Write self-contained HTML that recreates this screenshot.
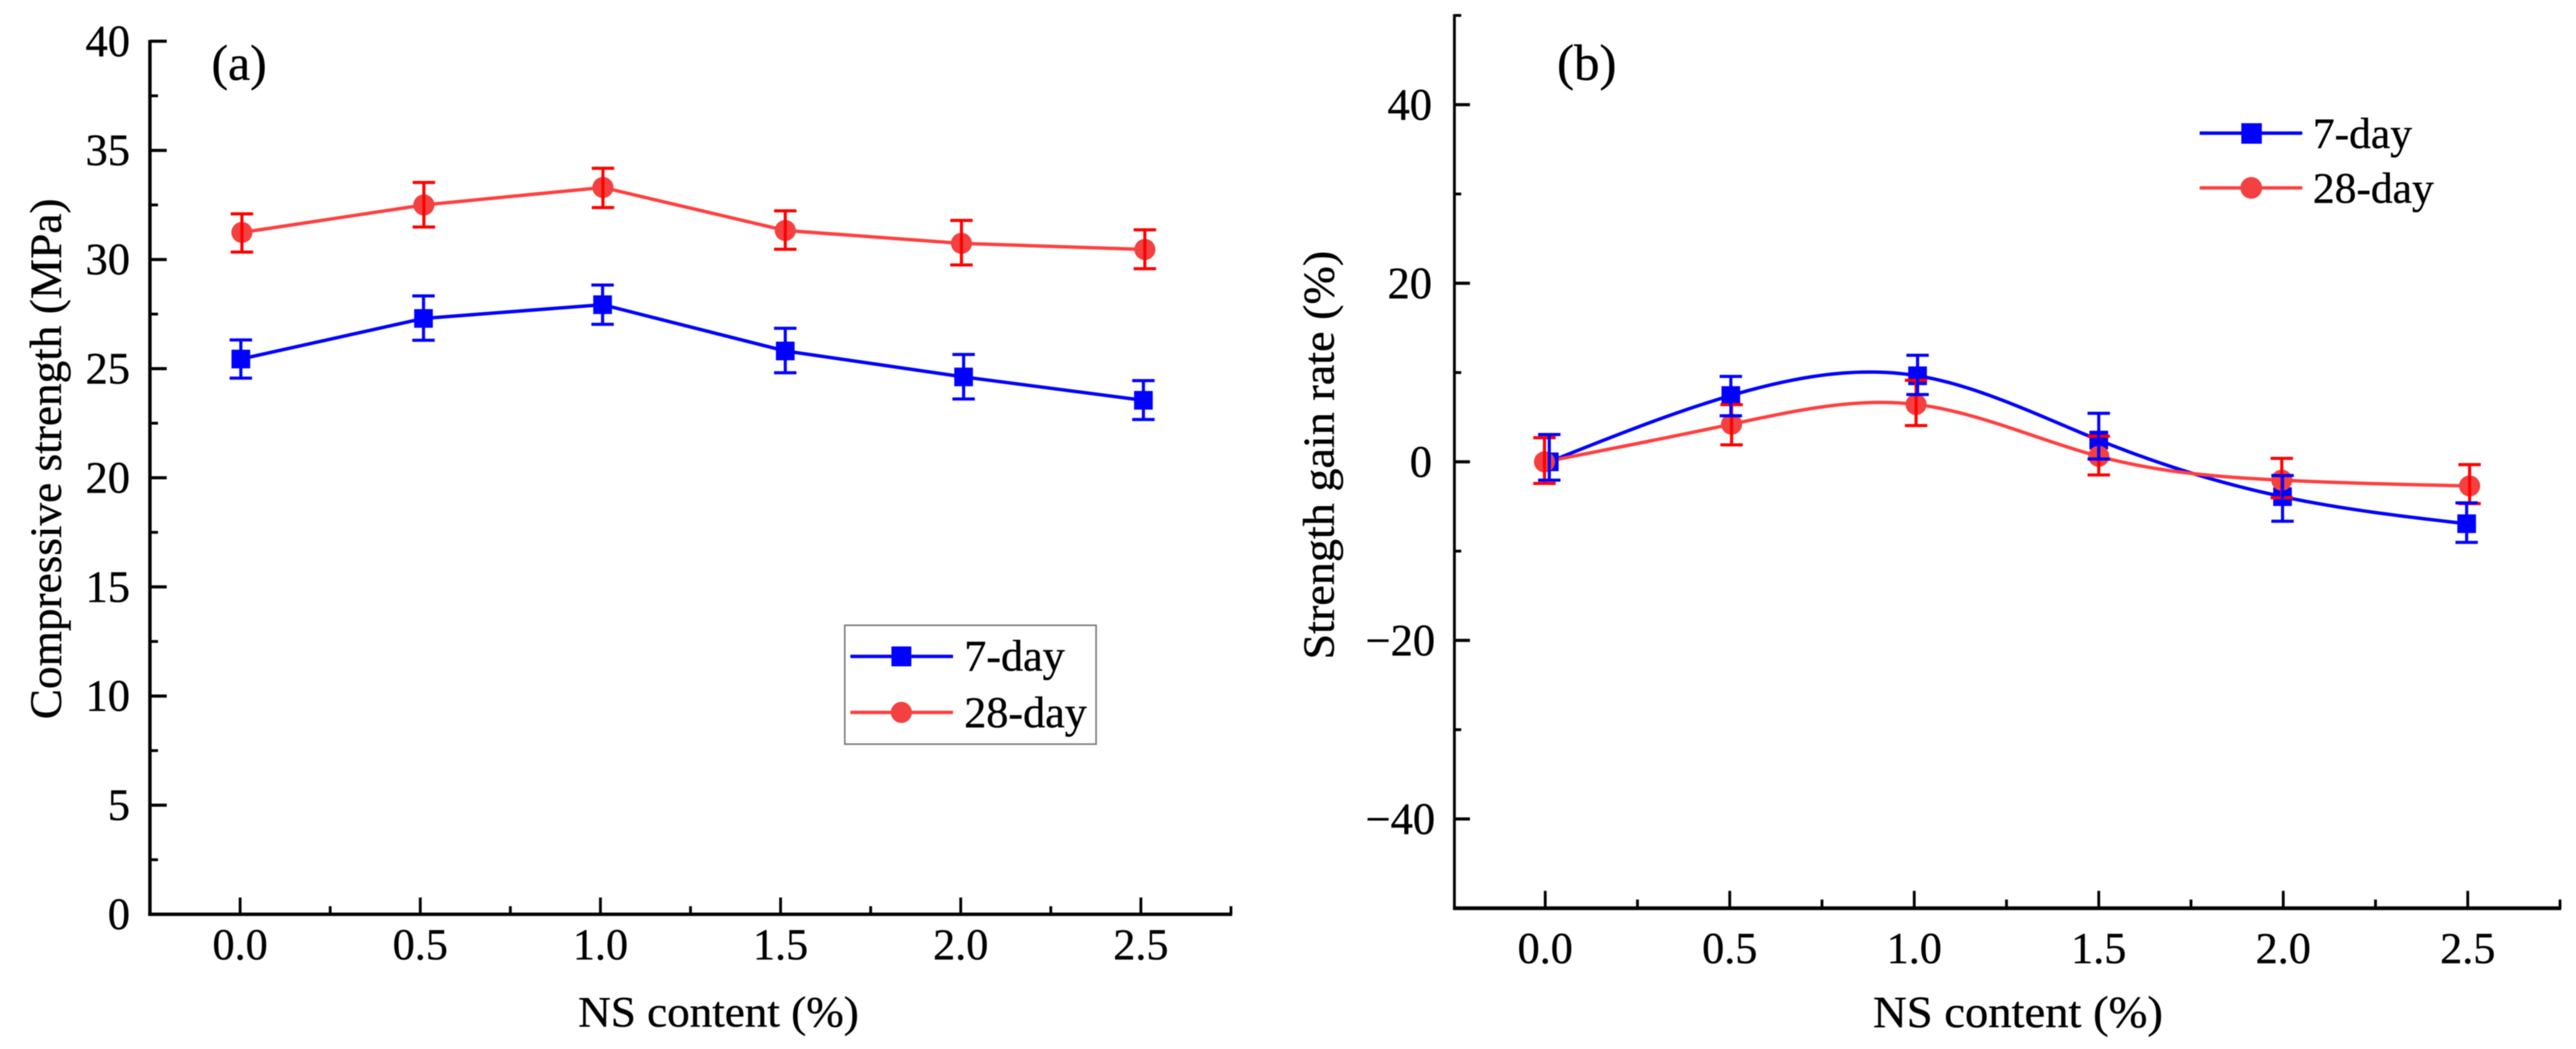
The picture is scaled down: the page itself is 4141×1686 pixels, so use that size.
<!DOCTYPE html>
<html lang="en">
<head>
<meta charset="utf-8">
<title>Compressive strength and strength gain rate vs NS content</title>
<style>
html,body{margin:0;padding:0;background:#fff;width:4141px;height:1686px;overflow:hidden}
svg{display:block;filter:blur(.7px)}
text{font-family:"Liberation Serif",serif;fill:#000;stroke:#000;stroke-width:.6px}
</style>
</head>
<body>
<svg id="figure" xmlns="http://www.w3.org/2000/svg" width="4141" height="1686" viewBox="0 0 4141 1686">
  <rect x="0" y="0" width="4141" height="1686" fill="#fff"/>
  <g id="panelA">
    <text x="340" y="128" font-size="80">(a)</text>
    <text transform="translate(98,737.5) rotate(-90)" text-anchor="middle" font-size="72" textLength="837" lengthAdjust="spacingAndGlyphs">Compressive strength (MPa)</text>
    <text x="1155" y="1650" text-anchor="middle" font-size="70" textLength="451" lengthAdjust="spacingAndGlyphs">NS content (%)</text>
  </g>
  <g id="panelB">
    <text x="2503" y="128" font-size="82">(b)</text>
    <text transform="translate(2144,731.5) rotate(-90)" text-anchor="middle" font-size="71" textLength="657" lengthAdjust="spacingAndGlyphs">Strength gain rate (%)</text>
    <text x="3244" y="1651" text-anchor="middle" font-size="72" textLength="466" lengthAdjust="spacingAndGlyphs">NS content (%)</text>
  </g>
  <g id="legendA">
    <rect x="1358" y="1005" width="404" height="191" fill="#fff" stroke="#777" stroke-width="2.5"/>
    <line x1="1367" x2="1532" y1="1055" y2="1055" stroke="#0000ff" stroke-width="5.5"/>
    <rect x="1433" y="1039" width="32" height="32" fill="#0000ff"/>
    <text x="1550" y="1078" font-size="71">7-day</text>
    <line x1="1367" x2="1532" y1="1145" y2="1145" stroke="#ff4040" stroke-width="5.5"/>
    <circle cx="1449" cy="1145" r="17" fill="#f34040"/>
    <text x="1550" y="1169" font-size="71">28-day</text>
  </g>
  <g id="legendB">
    <line x1="3536" x2="3701" y1="214" y2="214" stroke="#0000ff" stroke-width="5.5"/>
    <rect x="3603" y="198" width="33" height="33" fill="#0000ff"/>
    <text x="3718" y="238" font-size="70">7-day</text>
    <line x1="3536" x2="3701" y1="302" y2="302" stroke="#ff4040" stroke-width="5.5"/>
    <circle cx="3619" cy="302" r="17.5" fill="#f34040"/>
    <text x="3718" y="326" font-size="70">28-day</text>
  </g>
</svg>
<script>
// Panel (a): compressive strength
const aXTickValues = [0, 0.5, 1, 1.5, 2, 2.5];
const aXTickLabels = ['0.0', '0.5', '1.0', '1.5', '2.0', '2.5'];
const aXMinorTicks = [0.25, 0.75, 1.25, 1.75, 2.25, 2.75];
const aYTickValues = [0, 5, 10, 15, 20, 25, 30, 35, 40];
const aYTickLabels = ['0', '5', '10', '15', '20', '25', '30', '35', '40'];
const aYMinorTicks = [2.5, 7.5, 12.5, 17.5, 22.5, 27.5, 32.5, 37.5];
const aX7 = [0.002, 0.509, 1.006, 1.513, 2.008, 2.507];
const aY7 = [25.44, 27.3, 27.93, 25.81, 24.62, 23.55];
const aErrUp7 = [0.875, 1.03, 0.9, 1.04, 1.03, 0.9];
const aErrDown7 = [0.875, 1.0, 0.9, 1.0, 1.01, 0.88];
const aX28 = [0.005, 0.51, 1.007, 1.513, 2.002, 2.511];
const aY28 = [31.24, 32.5, 33.3, 31.33, 30.74, 30.46];
const aErrUp28 = [0.85, 1.03, 0.88, 0.9, 1.05, 0.9];
const aErrDown28 = [0.9, 1.01, 0.92, 0.86, 0.99, 0.88];

// Panel (b): strength gain rate
const bXTickValues = [0, 0.5, 1, 1.5, 2, 2.5];
const bXTickLabels = ['0.0', '0.5', '1.0', '1.5', '2.0', '2.5'];
const bXMinorTicks = [0.25, 0.75, 1.25, 1.75, 2.25, 2.75];
const bYTickValues = [-40, -20, 0, 20, 40];
const bYTickLabels = ['\u221240', '\u221220', '0', '20', '40'];
const bYMinorTicks = [-50, -30, -10, 10, 30, 50];
const bX7 = [0.011, 0.503, 1.009, 1.5, 1.998, 2.497];
const bY7 = [0, 7.43, 9.64, 2.44, -3.9, -6.93];
const bErrUp7 = [3.06, 2.14, 2.3, 3.0, 2.37, 2.33];
const bErrDown7 = [2.05, 2.27, 2.1, 2.12, 2.75, 2.09];
const bX28 = [-0.002, 0.505, 1.005, 1.5, 1.996, 2.505];
const bY28 = [0, 4.22, 6.43, 0.62, -2.05, -2.7];
const bErrUp28 = [2.7, 2.19, 2.7, 2.25, 2.44, 2.39];
const bErrDown28 = [2.42, 2.32, 2.37, 2.09, 1.97, 1.97];

const NS = 'http://www.w3.org/2000/svg';
const BLUE = '#0000ff', RED_ERR = '#ff0000', RED_LINE = '#ff4040', RED_FILL = '#f34040';

function make(parent, tag, attrs) {
  const n = document.createElementNS(NS, tag);
  for (const k in attrs) n.setAttribute(k, attrs[k]);
  parent.appendChild(n);
  return n;
}

// Natural cubic spline through the data, used for the smoothed curves in panel (b)
function spline(xs, ys, steps) {
  const n = xs.length, h = [], al = [], l = [1], mu = [0], z = [0], c = new Array(n).fill(0), b = [], d = [];
  for (let i = 0; i < n - 1; i++) h.push(xs[i + 1] - xs[i]);
  for (let i = 1; i < n - 1; i++) al[i] = 3 * (ys[i + 1] - ys[i]) / h[i] - 3 * (ys[i] - ys[i - 1]) / h[i - 1];
  for (let i = 1; i < n - 1; i++) {
    l[i] = 2 * (xs[i + 1] - xs[i - 1]) - h[i - 1] * mu[i - 1];
    mu[i] = h[i] / l[i];
    z[i] = (al[i] - h[i - 1] * z[i - 1]) / l[i];
  }
  for (let j = n - 2; j >= 0; j--) {
    c[j] = j === 0 ? 0 : z[j] - mu[j] * c[j + 1];
    b[j] = (ys[j + 1] - ys[j]) / h[j] - h[j] * (c[j + 1] + 2 * c[j]) / 3;
    d[j] = (c[j + 1] - c[j]) / (3 * h[j]);
  }
  const out = [];
  for (let j = 0; j < n - 1; j++) {
    for (let s = 0; s < steps; s++) {
      const t = h[j] * s / steps;
      out.push([xs[j] + t, ys[j] + b[j] * t + c[j] * t * t + d[j] * t * t * t]);
    }
  }
  out.push([xs[n - 1], ys[n - 1]]);
  return out;
}

function drawAxes(g, key, cfg) {
  const sx = cfg.sx, sy = cfg.sy;
  const yAxis = make(g, 'line', {x1: cfg.left, x2: cfg.left, y1: sy(cfg.yMax) - 2, y2: sy(cfg.yMin) + 2, stroke: '#000', 'stroke-width': cfg.axisW});
  
  
  const xAxis = make(g, 'line', {x1: cfg.left - cfg.axisW / 2, x2: sx(cfg.xMax) + 2, y1: sy(cfg.yMin), y2: sy(cfg.yMin), stroke: '#000', 'stroke-width': cfg.xAxisW});
  
  

  cfg.yTicks.forEach(function (v, i) {
    const t = make(g, 'line', {x1: cfg.left, x2: cfg.left + cfg.majorY, y1: sy(v), y2: sy(v), stroke: '#000', 'stroke-width': 5});
    
    
    const lab = make(g, 'text', {x: cfg.yLabelX(cfg.yLabels[i]), y: sy(v) + 24, 'text-anchor': 'end', 'font-size': 71.5});
    lab.textContent = cfg.yLabels[i];
    
    
  });
  cfg.yMinor.forEach(function (v) {
    const t = make(g, 'line', {x1: cfg.left, x2: cfg.left + cfg.minorY, y1: sy(v), y2: sy(v), stroke: '#000', 'stroke-width': 4.5});
    
    
  });
  cfg.xTicks.forEach(function (v, i) {
    const t = make(g, 'line', {x1: sx(v), x2: sx(v), y1: sy(cfg.yMin), y2: sy(cfg.yMin) - cfg.majorX, stroke: '#000', 'stroke-width': 4.5});
    
    
    const lab = make(g, 'text', {x: sx(v), y: cfg.xLabelY, 'text-anchor': 'middle', 'font-size': 71});
    lab.textContent = cfg.xLabels[i];
    
    
  });
  cfg.xMinor.forEach(function (v) {
    const t = make(g, 'line', {x1: sx(v), x2: sx(v), y1: sy(cfg.yMin), y2: sy(cfg.yMin) - cfg.minorX, stroke: '#000', 'stroke-width': 4.5});
    
    
  });
}

function drawLine(g, key, label, pts, color, sx, sy) {
  const d = pts.map(function (p, i) { return (i ? 'L' : 'M') + sx(p[0]).toFixed(2) + ' ' + sy(p[1]).toFixed(2); }).join('');
  const path = make(g, 'path', {d: d, fill: 'none', stroke: color, 'stroke-width': 5.5, 'stroke-linejoin': 'round'});
  
  
}

function drawSquares(g, key, label, xs, ys, sx, sy) {
  xs.forEach(function (x, i) {
    const m = make(g, 'rect', {x: sx(x) - 15, y: sy(ys[i]) - 15, width: 30, height: 30, fill: BLUE});
    
    
  });
}

function drawCircles(g, key, label, xs, ys, sx, sy) {
  xs.forEach(function (x, i) {
    const m = make(g, 'circle', {cx: sx(x), cy: sy(ys[i]), r: 17, fill: RED_FILL});
    
    
  });
}

function drawErrors(g, key, label, xs, ys, ups, downs, color, sx, sy) {
  xs.forEach(function (x, i) {
    const px = sx(x), top = sy(ys[i] + ups[i]), bot = sy(ys[i] - downs[i]);
    const stem = make(g, 'line', {x1: px, x2: px, y1: top, y2: bot, stroke: color, 'stroke-width': 5});
    
    
    const capTop = make(g, 'line', {x1: px - 18, x2: px + 18, y1: top, y2: top, stroke: color, 'stroke-width': 5});
    
    
    const capBot = make(g, 'line', {x1: px - 18, x2: px + 18, y1: bot, y2: bot, stroke: color, 'stroke-width': 5});
    
    
  });
}

// Panel (a) scales
const axA = function (v) { return 386 + v * 579.2; };
const ayA = function (v) { return 1469.5 - v * 35.08; };
const gA = document.getElementById('panelA');
drawAxes(gA, 'panel-a', {
  sx: axA, sy: ayA, left: 241, axisW: 5.5, xAxisW: 5.5, xMax: 2.75, yMin: 0, yMax: 40,
  yTicks: aYTickValues, yLabels: aYTickLabels, yMinor: aYMinorTicks,
  xTicks: aXTickValues, xLabels: aXTickLabels, xMinor: aXMinorTicks,
  majorY: 27, minorY: 13, majorX: 27, minorX: 13, xLabelY: 1542,
  yLabelX: function () { return 209; }
});
drawLine(gA, 'panel-a', '7-day', aX7.map(function (x, i) { return [x, aY7[i]]; }), BLUE, axA, ayA);
drawLine(gA, 'panel-a', '28-day', aX28.map(function (x, i) { return [x, aY28[i]]; }), RED_LINE, axA, ayA);
drawSquares(gA, 'panel-a', '7-day', aX7, aY7, axA, ayA);
drawCircles(gA, 'panel-a', '28-day', aX28, aY28, axA, ayA);
drawErrors(gA, 'panel-a', '28-day', aX28, aY28, aErrUp28, aErrDown28, RED_ERR, axA, ayA);
drawErrors(gA, 'panel-a', '7-day', aX7, aY7, aErrUp7, aErrDown7, BLUE, axA, ayA);

// Panel (b) scales
const axB = function (v) { return 2484 + v * 593.2; };
const ayB = function (v) { return 742.3 - v * 14.35; };
const gB = document.getElementById('panelB');
drawAxes(gB, 'panel-b', {
  sx: axB, sy: ayB, left: 2338, axisW: 4.5, xAxisW: 6, xMax: 2.75, yMin: -50, yMax: 50,
  yTicks: bYTickValues, yLabels: bYTickLabels, yMinor: bYMinorTicks,
  xTicks: bXTickValues, xLabels: bXTickLabels, xMinor: bXMinorTicks,
  majorY: 25, minorY: 11, majorX: 28, minorX: 14, xLabelY: 1548,
  yLabelX: function (s) { return s.charAt(0) === '\u2212' ? 2307 : 2302; }
});
drawLine(gB, 'panel-b', '7-day', spline(bX7, bY7, 30), BLUE, axB, ayB);
drawLine(gB, 'panel-b', '28-day', spline(bX28, bY28, 30), RED_LINE, axB, ayB);
drawSquares(gB, 'panel-b', '7-day', bX7, bY7, axB, ayB);
drawCircles(gB, 'panel-b', '28-day', bX28, bY28, axB, ayB);
drawErrors(gB, 'panel-b', '28-day', bX28, bY28, bErrUp28, bErrDown28, RED_ERR, axB, ayB);
drawErrors(gB, 'panel-b', '7-day', bX7, bY7, bErrUp7, bErrDown7, BLUE, axB, ayB);
</script>
</body>
</html>
